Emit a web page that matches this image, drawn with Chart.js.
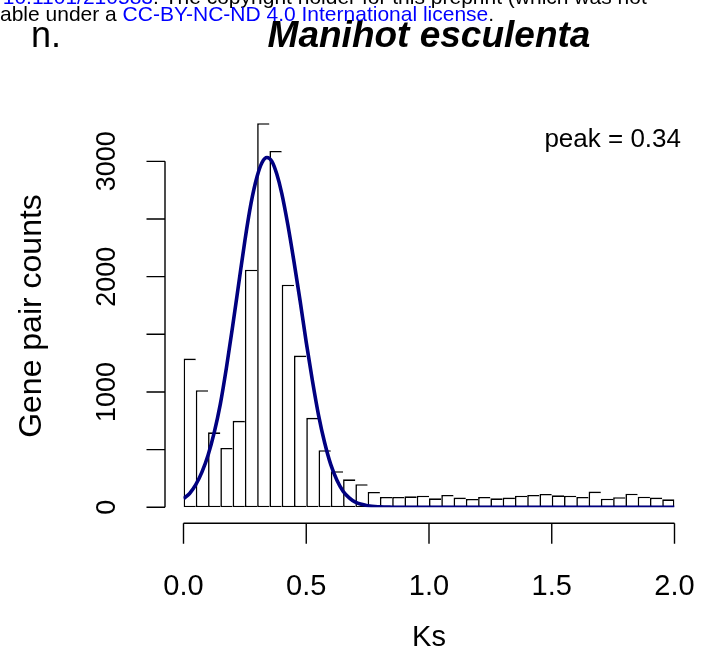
<!DOCTYPE html>
<html>
<head>
    <title>Manihot esculenta Ks</title>
    <style>
        body {
            margin: 0;
            background: #ffffff;
        }
        #ks-chart {
            display: block;
        }
    </style>
    <script src="https://cdn.jsdelivr.net/npm/chart.js"></script>
</head>
<body>
    <canvas id="ks-chart" width="704" height="655"></canvas>
    <script>
        // Ks histogram, bins 0.05 wide
        const binStarts = [0.00, 0.05, 0.10, 0.15, 0.20, 0.25, 0.30, 0.35, 0.40, 0.45,
                           0.50, 0.55, 0.60, 0.65, 0.70, 0.75, 0.80, 0.85, 0.90, 0.95,
                           1.00, 1.05, 1.10, 1.15, 1.20, 1.25, 1.30, 1.35, 1.40, 1.45,
                           1.50, 1.55, 1.60, 1.65, 1.70, 1.75, 1.80, 1.85, 1.90, 1.95];
        const binWidth = 0.05;
        const pairCounts = [1290, 1015, 650, 515, 750, 2060, 3330, 3090, 1930, 1316,
                            776, 495, 313, 243, 200, 133, 90, 90, 95, 101,
                            78, 107, 84, 73, 90, 78, 84, 101, 107, 116,
                            104, 101, 90, 136, 75, 87, 118, 92, 84, 69];

        // fitted density curve (scaled to counts)
        const fitKs = [0, 0.025, 0.05, 0.075, 0.1, 0.125, 0.15, 0.175, 0.2, 0.225,
                       0.25, 0.275, 0.3, 0.32, 0.34, 0.36, 0.38, 0.4, 0.425, 0.45,
                       0.475, 0.5, 0.525, 0.55, 0.575, 0.6, 0.625, 0.65, 0.675, 0.7,
                       0.75, 0.8, 0.85, 0.9, 1.0, 1.25, 1.5, 1.75, 2.0];
        const fitCounts = [75, 120, 196, 305, 452, 648, 895, 1212, 1568, 1940,
                           2312, 2635, 2870, 2990, 3033, 3000, 2890, 2725, 2450, 2130,
                           1790, 1430, 1100, 800, 560, 370, 235, 140, 82, 45,
                           14, 4, 1, 0, 0, 0, 0, 0, 0];

        const xTicks = [0, 0.5, 1, 1.5, 2];
        const xTickLabels = ['0.0', '0.5', '1.0', '1.5', '2.0'];
        const yTicks = [0, 500, 1000, 1500, 2000, 2500, 3000];
        const yTickLabels = ['0', '', '1000', '', '2000', '', '3000'];

        const peakKs = 0.34;
        const FONT = '"Liberation Sans", Arial, Helvetica, sans-serif';

        const histData = binStarts.map((s, i) => ({ x: s + binWidth / 2, y: pairCounts[i] }));
        const fitData = fitKs.map((k, i) => ({ x: k, y: fitCounts[i] }));
        const lastBin = binStarts.length - 1;
        const edge = 1.6;

        // base-graphics style axes, titles and the page header
        const rStyle = {
            id: 'rStyle',
            afterDraw(chart) {
                const ctx = chart.ctx;
                const x = chart.scales.x;
                const y = chart.scales.y;
                const midX = (chart.chartArea.left + chart.chartArea.right) / 2;
                ctx.save();
                ctx.strokeStyle = '#000';
                ctx.fillStyle = '#000';
                ctx.lineWidth = 1.4;

                // y axis
                const ax = x.getPixelForValue(0) - 18.5;
                ctx.beginPath();
                ctx.moveTo(ax, y.getPixelForValue(yTicks[0]));
                ctx.lineTo(ax, y.getPixelForValue(yTicks[yTicks.length - 1]));
                yTicks.forEach(v => {
                    const py = y.getPixelForValue(v);
                    ctx.moveTo(ax, py);
                    ctx.lineTo(ax - 18.5, py);
                });
                ctx.stroke();
                ctx.font = '27px ' + FONT;
                ctx.textAlign = 'center';
                ctx.textBaseline = 'alphabetic';
                yTicks.forEach((v, i) => {
                    if (!yTickLabels[i]) return;
                    ctx.save();
                    ctx.translate(ax - 50, y.getPixelForValue(v));
                    ctx.rotate(-Math.PI / 2);
                    ctx.fillText(yTickLabels[i], 0, 0);
                    ctx.restore();
                });

                // x axis
                const ay = y.getPixelForValue(0) + 16;
                ctx.beginPath();
                ctx.moveTo(x.getPixelForValue(xTicks[0]), ay);
                ctx.lineTo(x.getPixelForValue(xTicks[xTicks.length - 1]), ay);
                xTicks.forEach(v => {
                    const px = x.getPixelForValue(v);
                    ctx.moveTo(px, ay);
                    ctx.lineTo(px, ay + 20.5);
                });
                ctx.stroke();
                ctx.font = '29px ' + FONT;
                xTicks.forEach((v, i) => {
                    ctx.fillText(xTickLabels[i], x.getPixelForValue(v), 595);
                });

                // axis titles
                ctx.fillText('Ks', midX, 646);
                ctx.save();
                ctx.font = '32px ' + FONT;
                ctx.translate(41, 316);
                ctx.rotate(-Math.PI / 2);
                ctx.fillText('Gene pair counts', 0, 0);
                ctx.restore();

                // main title and panel letter
                ctx.font = 'italic bold 37px ' + FONT;
                ctx.fillText('Manihot esculenta', midX, 47);
                ctx.font = '36px ' + FONT;
                ctx.textAlign = 'left';
                ctx.fillText('n.', 31, 47);

                // peak annotation
                ctx.font = '26px ' + FONT;
                ctx.textAlign = 'right';
                ctx.fillText('peak = ' + peakKs.toFixed(2), 681, 147);

                // preprint header, cut at the top edge
                ctx.font = '21px ' + FONT;
                ctx.fillStyle = '#0000ff';
                ctx.fillText('http://dx.doi.org/10.1101/210583', 153, 4);
                ctx.textAlign = 'left';
                ctx.fillStyle = '#000';
                ctx.fillText('. The copyright holder for this preprint (which was not', 153, 4);
                ctx.fillText('able under a ', 0, 20.7);
                let hx = ctx.measureText('able under a ').width;
                ctx.fillStyle = '#0000ff';
                ctx.fillText('CC-BY-NC-ND 4.0 International license', hx, 20.7);
                hx += ctx.measureText('CC-BY-NC-ND 4.0 International license').width;
                ctx.fillStyle = '#000';
                ctx.fillText('.', hx, 20.7);
                ctx.restore();
            }
        };

        const ctx = document.getElementById('ks-chart').getContext('2d');
        new Chart(ctx, {
            data: {
                datasets: [{
                    type: 'line',
                    data: fitData,
                    borderColor: '#000080',
                    borderWidth: 3.6,
                    pointRadius: 0,
                    cubicInterpolationMode: 'monotone',
                    order: 0
                }, {
                    type: 'bar',
                    data: histData,
                    backgroundColor: '#ffffff',
                    borderColor: '#000000',
                    borderSkipped: false,
                    borderWidth: c => ({
                        top: edge,
                        bottom: edge,
                        left: edge,
                        right: c.dataIndex === lastBin ? edge : 0
                    }),
                    barPercentage: 1,
                    categoryPercentage: 1,
                    inflateAmount: 0,
                    order: 1
                }]
            },
            options: {
                responsive: false,
                animation: false,
                devicePixelRatio: 1,
                layout: {
                    padding: { left: 183.5, right: 29.5, top: 115.2, bottom: 147.7 }
                },
                scales: {
                    x: { type: 'linear', min: 0, max: 2, offset: false, display: false },
                    y: { type: 'linear', min: 0, max: 3400, display: false }
                },
                plugins: {
                    legend: { display: false },
                    tooltip: { enabled: false }
                }
            },
            plugins: [rStyle]
        });
    </script>
</body>
</html>
